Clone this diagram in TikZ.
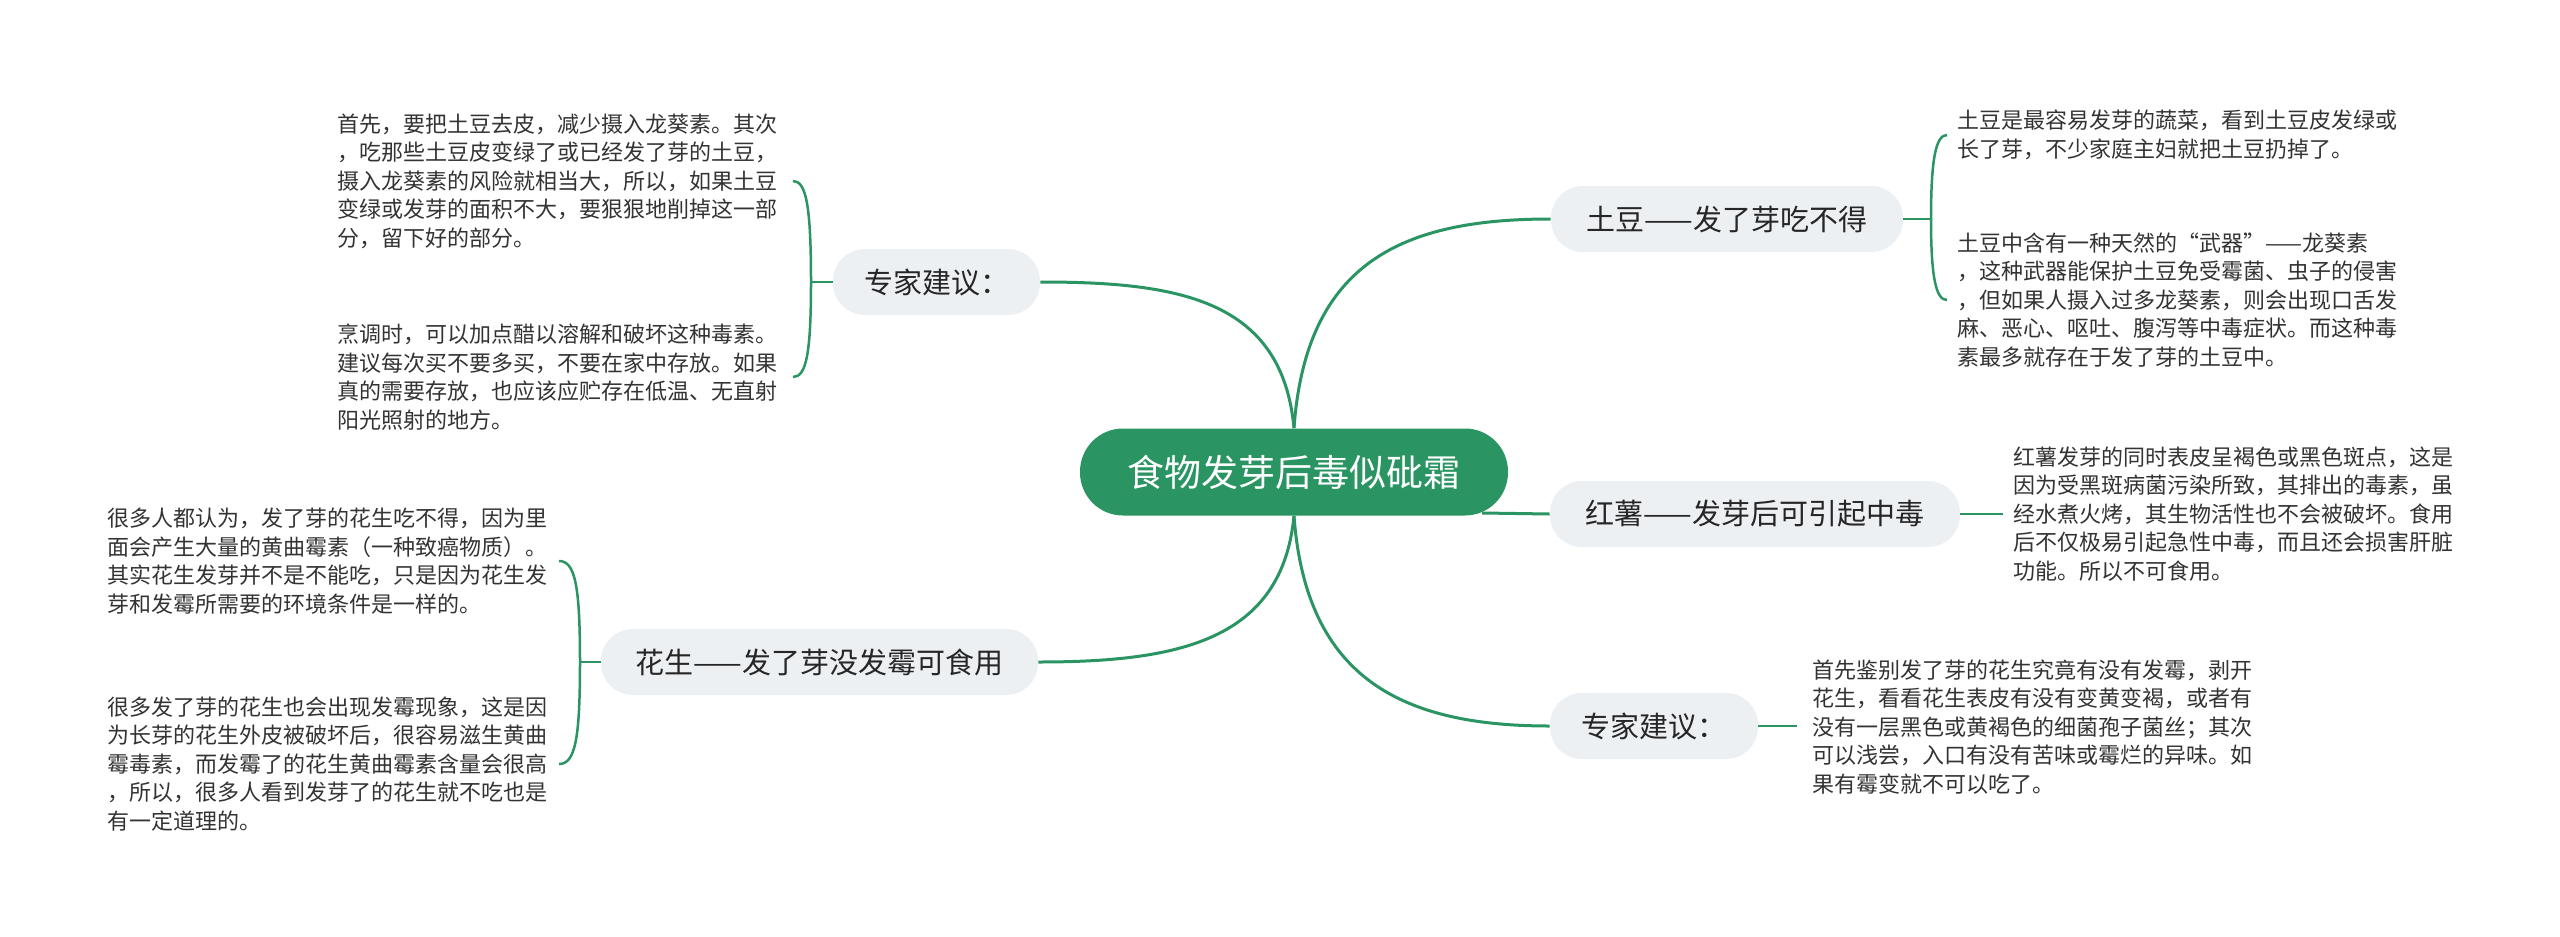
\documentclass[tikz,border=0pt]{standalone}
\usepackage{fontspec}
\setmainfont{Noto Sans CJK SC}
\definecolor{mmgreen}{HTML}{2A9563}
\definecolor{mmgray}{HTML}{EDF0F3}
\definecolor{leaftext}{HTML}{333333}
\begin{document}
\begin{tikzpicture}[x=0.5pt,y=-0.5pt,
  conn/.style={draw=mmgreen,line width=1.5pt},
  brk/.style={draw=mmgreen,line width=1.25pt},
  root/.style={fill=mmgreen,text=white,rounded corners=21.5pt,minimum height=43.5pt,font=\fontsize{18.5pt}{22pt}\selectfont,inner sep=0pt},
  topic/.style={fill=mmgray,text=black!85,rounded corners=16pt,minimum height=33pt,font=\fontsize{14.5pt}{18pt}\selectfont,inner sep=0pt},
  leaf/.style={anchor=west,align=left,inner sep=0pt,text=leaftext,font=\fontsize{11pt}{14.25pt}\selectfont}]
\fill[white] (0,0) rectangle (2560,937);
\useasboundingbox (0,0) rectangle (2560,937);

% main nodes
\node[root,minimum width=214pt] (c) at (1294,472) {食物发芽后毒似砒霜};
\node[topic,minimum width=176pt] (td) at (1727,219) {土豆——发了芽吃不得};
\node[topic,minimum width=205pt] (hs) at (1755,514) {红薯——发芽后可引起中毒};
\node[topic,minimum width=104pt] (zr) at (1654,726) {专家建议：};
\node[topic,minimum width=103.5pt] (zl) at (936.5,282) {专家建议：};
\node[topic,minimum width=218.5pt] (hsh) at (819.5,662) {花生——发了芽没发霉可食用};

% leaves
\node[leaf] (l1) at (337,181) {首先，要把土豆去皮，减少摄入龙葵素。其次\\，吃那些土豆皮变绿了或已经发了芽的土豆，\\摄入龙葵素的风险就相当大，所以，如果土豆\\变绿或发芽的面积不大，要狠狠地削掉这一部\\分，留下好的部分。};
\node[leaf] (l2) at (337,377) {烹调时，可以加点醋以溶解和破坏这种毒素。\\建议每次买不要多买，不要在家中存放。如果\\真的需要存放，也应该应贮存在低温、无直射\\阳光照射的地方。};
\node[leaf] (l3) at (107,561) {很多人都认为，发了芽的花生吃不得，因为里\\面会产生大量的黄曲霉素（一种致癌物质）。\\其实花生发芽并不是不能吃，只是因为花生发\\芽和发霉所需要的环境条件是一样的。};
\node[leaf] (l4) at (107,764) {很多发了芽的花生也会出现发霉现象，这是因\\为长芽的花生外皮被破坏后，很容易滋生黄曲\\霉毒素，而发霉了的花生黄曲霉素含量会很高\\，所以，很多人看到发芽了的花生就不吃也是\\有一定道理的。};
\node[leaf] (l5) at (1957,135) {土豆是最容易发芽的蔬菜，看到土豆皮发绿或\\长了芽，不少家庭主妇就把土豆扔掉了。};
\node[leaf] (l6) at (1957,300) {土豆中含有一种天然的“武器”——龙葵素\\，这种武器能保护土豆免受霉菌、虫子的侵害\\，但如果人摄入过多龙葵素，则会出现口舌发\\麻、恶心、呕吐、腹泻等中毒症状。而这种毒\\素最多就存在于发了芽的土豆中。};
\node[leaf] (l7) at (2013,514) {红薯发芽的同时表皮呈褐色或黑色斑点，这是\\因为受黑斑病菌污染所致，其排出的毒素，虽\\经水煮火烤，其生物活性也不会被破坏。食用\\后不仅极易引起急性中毒，而且还会损害肝脏\\功能。所以不可食用。};
\node[leaf] (l8) at (1812,727) {首先鉴别发了芽的花生究竟有没有发霉，剥开\\花生，看看花生表皮有没有变黄变褐，或者有\\没有一层黑色或黄褐色的细菌孢子菌丝；其次\\可以浅尝，入口有没有苦味或霉烂的异味。如\\果有霉变就不可以吃了。};

% main connectors
\draw[conn] (c.north) .. controls (1306,261) and (1404,219) .. (td.west);
\draw[conn] (c.north) .. controls (1282,300) and (1180,282) .. (zl.east);
\draw[conn] (c.south) .. controls (1282,640) and (1180,662) .. (hsh.east);
\draw[conn] (c.south) .. controls (1306,680) and (1404,726) .. (zr.west);
\coordinate (cr) at (1482,513);
\draw[conn] (cr) -- (hs.west);

% brackets
\coordinate (jl) at (811,282);
\coordinate (e1) at (793,181);
\coordinate (e2) at (793,377);
\draw[brk] (zl.west) -- (jl);
\draw[brk] (jl) .. controls (811,205) and (806,181) .. (e1);
\draw[brk] (jl) .. controls (811,355) and (806,377) .. (e2);

\coordinate (jh) at (580,662);
\coordinate (e3) at (559,561);
\coordinate (e4) at (559,764);
\draw[brk] (hsh.west) -- (jh);
\draw[brk] (jh) .. controls (580,585) and (575,561) .. (e3);
\draw[brk] (jh) .. controls (580,740) and (575,764) .. (e4);

\coordinate (jt) at (1931,219);
\coordinate (e5) at (1947,135);
\coordinate (e6) at (1947,300);
\draw[brk] (td.east) -- (jt);
\draw[brk] (jt) .. controls (1931,158) and (1936,135) .. (e5);
\draw[brk] (jt) .. controls (1931,278) and (1936,300) .. (e6);

\coordinate (e7) at (2003,514);
\draw[brk] (hs.east) -- (e7);
\coordinate (e8) at (1797,726);
\draw[brk] (zr.east) -- (e8);
\end{tikzpicture}
\end{document}
